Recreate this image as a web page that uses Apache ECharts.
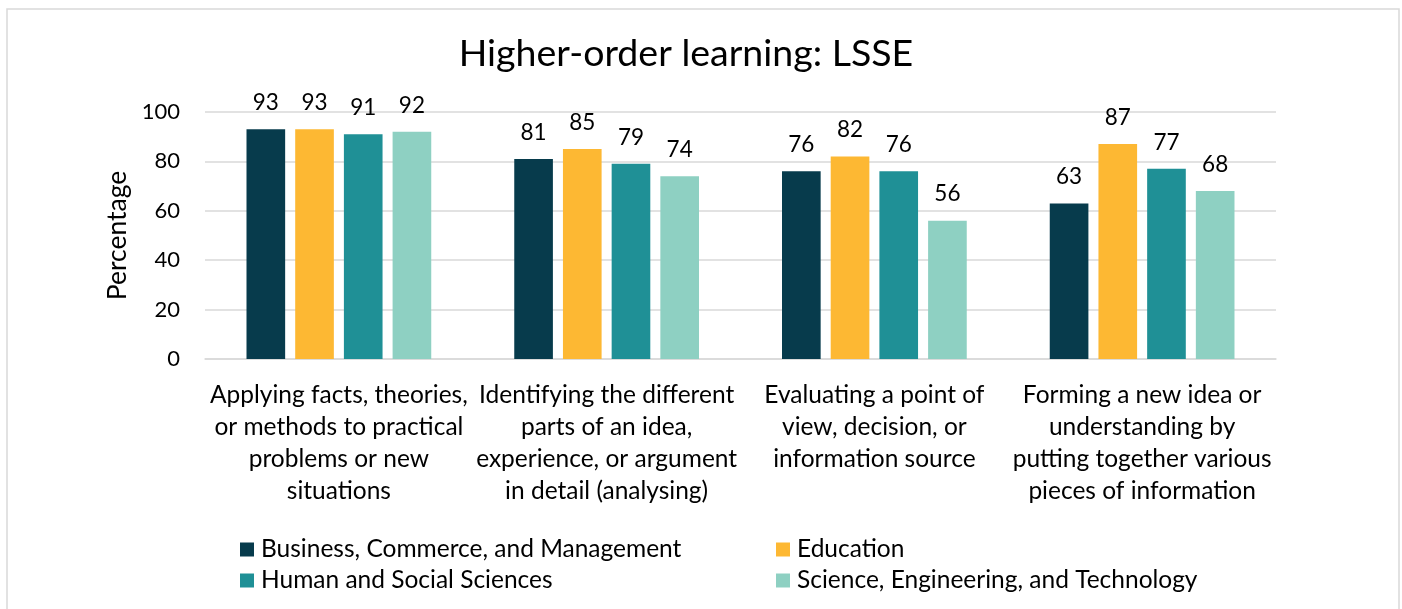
<!DOCTYPE html>
<html><head><meta charset="utf-8">
<script src="https://cdn.jsdelivr.net/npm/echarts@6/dist/echarts.min.js"></script>
<style>html,body{margin:0;padding:0;background:#fff}#c{width:1402px;height:609px}</style>
</head><body><div id="c"></div>
<script>
const categories = [
  "Applying facts, theories,\nor methods to practical\nproblems or new\nsituations",
  "Identifying the different\nparts of an idea,\nexperience, or argument\nin detail (analysing)",
  "Evaluating a point of\nview, decision, or\ninformation source",
  "Forming a new idea or\nunderstanding by\nputting together various\npieces of information"
];
const seriesNames = ["Business, Commerce, and Management", "Education", "Human and Social Sciences", "Science, Engineering, and Technology"];
const business = [93, 81, 76, 63];
const education = [93, 85, 82, 87];
const humanSocial = [91, 79, 76, 77];
const sciEng = [92, 74, 56, 68];
const yTicks = [0, 20, 40, 60, 80, 100];
const colors = ["#073b4c", "#fdb833", "#1f9096", "#8ed0c2"];

const FONT = "Lato";
const values = [business, education, humanSocial, sciEng];
const chart = echarts.init(document.getElementById('c'), null, {renderer: 'canvas'});
const legendPos = [[235, 532], [771, 532], [235, 563], [771, 563]];
chart.setOption({
  animation: false,
  textStyle: {fontFamily: FONT},
  title: {
    text: "Higher-order learning: LSSE",
    left: 681, textAlign: 'center', top: 30,
    textStyle: {fontFamily: FONT, fontSize: 37.5, fontWeight: 'normal', color: '#000'}
  },
  graphic: [{
    type: 'rect', shape: {x: 7, y: 9, width: 1392, height: 620},
    style: {fill: 'none', stroke: '#d9d9d9', lineWidth: 1.5}, silent: true
  }],
  legend: seriesNames.map((n, i) => ({
    data: [n], left: legendPos[i][0], top: legendPos[i][1],
    icon: 'rect', itemWidth: 14, itemHeight: 14, itemGap: 0,
    textStyle: {fontFamily: FONT, fontSize: 24.5, color: '#000', padding: [0, 0, 0, 2]},
    selectedMode: false
  })),
  grid: {left: 205, right: 126, top: 112, bottom: 250},
  xAxis: {
    type: 'category', data: categories,
    axisLine: {lineStyle: {color: '#d9d9d9', width: 1.5}},
    axisTick: {show: false},
    axisLabel: {fontFamily: FONT, fontSize: 24.5, color: '#000', lineHeight: 32, margin: 20, interval: 0}
  },
  yAxis: {
    type: 'value', min: 0, max: 100, interval: 20,
    name: 'Percentage', nameLocation: 'middle', nameGap: 74, nameRotate: 90,
    nameTextStyle: {fontFamily: FONT, fontSize: 26.5, color: '#000'},
    axisLine: {show: false}, axisTick: {show: false},
    axisLabel: {fontFamily: FONT, fontSize: 22, color: '#000', margin: 25,
      formatter: v => yTicks.includes(v) ? String(v) : ''},
    splitLine: {lineStyle: {color: '#d9d9d9', width: 1.5}}
  },
  series: seriesNames.map((n, i) => ({
    name: n, type: 'bar', data: values[i],
    barGap: '26%', barCategoryGap: '31%',
    itemStyle: {color: colors[i]},
    label: {show: true, position: 'top', distance: 15, fontFamily: FONT, fontSize: 22.5, color: '#000'}
  }))
});
</script></body></html>
